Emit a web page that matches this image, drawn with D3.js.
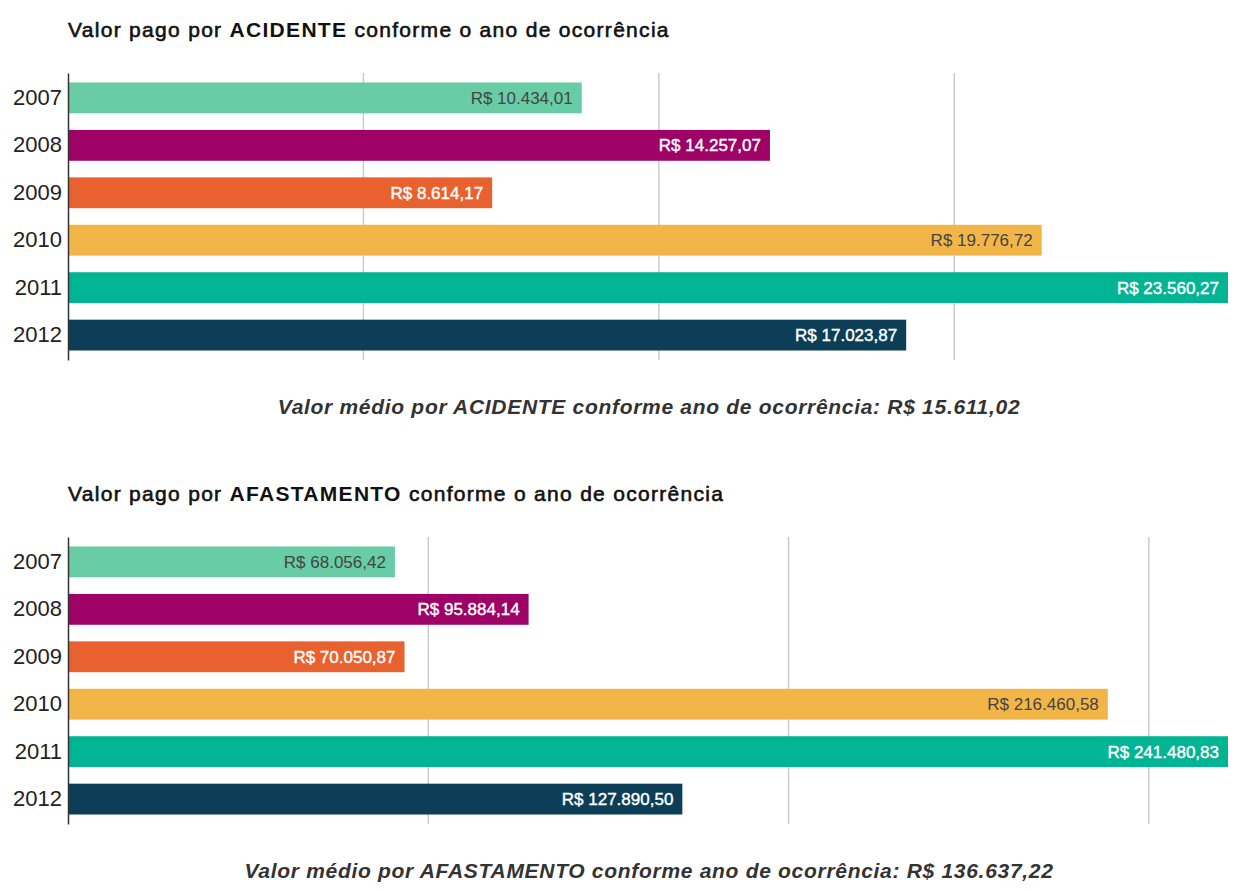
<!DOCTYPE html>
<html><head><meta charset="utf-8">
<script src="https://cdn.jsdelivr.net/npm/d3@7"></script>
<style>
body{margin:0;background:#fff;}
svg{display:block;font-family:"Liberation Sans",Arial,sans-serif;}
</style></head>
<body><svg id="c" width="1244" height="891"></svg>
<script>
const years = ["2007","2008","2009","2010","2011","2012"];
const colors = ["#68CCA6","#9E0266","#E8612F","#F2B648","#00B494","#0C3F57"];
const labelColors = ["#444444","#ffffff","#ffffff","#444444","#ffffff","#ffffff"];
const acidenteValues = [10434.01,14257.07,8614.17,19776.72,23560.27,17023.87];
const afastamentoValues = [68056.42,95884.14,70050.87,216460.58,241480.83,127890.50];
const acidenteTicks = [6000,12000,18000];
const afastamentoTicks = [75000,150000,225000];
const titles = [["Valor pago por ","ACIDENTE"," conforme o ano de ocorrência"],["Valor pago por ","AFASTAMENTO"," conforme o ano de ocorrência"]];
const footers = ["Valor médio por ACIDENTE conforme ano de ocorrência: ","Valor médio por AFASTAMENTO conforme ano de ocorrência: "];

const loc = d3.formatLocale({decimal:",",thousands:".",grouping:[3],currency:["R$ ",""]});
const fmt = loc.format("$,.2f");
const svg = d3.select("#c");

function chart(values, ticks, title, footer, oy){
  const g = svg.append("g").attr("transform",`translate(0,${oy})`);
  const x = d3.scaleLinear().domain([0,d3.max(values)]).range([68,1228]);
  const y = d3.scaleBand().domain(years).range([73,360]).paddingInner(0.35).paddingOuter(0.2);
  const t = g.append("text").attr("x",68).attr("y",37).attr("font-size",21).attr("fill","#111")
    .attr("letter-spacing","1.3px");
  t.append("tspan").attr("stroke","#111").attr("stroke-width",0.6).text(title[0]);
  t.append("tspan").attr("font-weight","bold").text(title[1]);
  t.append("tspan").attr("stroke","#111").attr("stroke-width",0.6).text(title[2]);
  g.selectAll(".grid").data(ticks).join("line").attr("x1",d=>x(d)).attr("x2",d=>x(d))
    .attr("y1",73).attr("y2",360).attr("stroke","#cccccc").attr("stroke-width",1.5);
  g.selectAll(".bar").data(values).join("rect")
    .attr("x",x(0)).attr("y",(d,i)=>y(years[i])).attr("width",d=>x(d)-x(0)).attr("height",y.bandwidth())
    .attr("fill",(d,i)=>colors[i]);
  g.selectAll(".lbl").data(values).join("text")
    .attr("x",d=>x(d)-9).attr("y",(d,i)=>y(years[i])+y.bandwidth()/2).attr("dy","0.35em")
    .attr("text-anchor","end").attr("font-size",17).attr("fill",(d,i)=>labelColors[i])
    .attr("stroke",(d,i)=>labelColors[i]==="#ffffff"?"#ffffff":"none").attr("stroke-width",0.4)
    .text(d=>fmt(d));
  const ax = g.append("g").attr("transform","translate(68,0)").call(d3.axisLeft(y).tickSize(0).tickPadding(6));
  ax.select(".domain").attr("stroke","#333").attr("stroke-width",1.5);
  ax.selectAll("text").attr("font-size",22).attr("fill","#222").attr("font-family","Liberation Sans, Arial, sans-serif");
  g.append("text").attr("x",649).attr("y",414).attr("text-anchor","middle").attr("font-size",21)
    .attr("letter-spacing","0.7px")
    .attr("font-weight","bold").attr("font-style","italic").attr("fill","#333")
    .text(footer + fmt(d3.mean(values)));
}
chart(acidenteValues, acidenteTicks, titles[0], footers[0], 0);
chart(afastamentoValues, afastamentoTicks, titles[1], footers[1], 464);
</script></body></html>
